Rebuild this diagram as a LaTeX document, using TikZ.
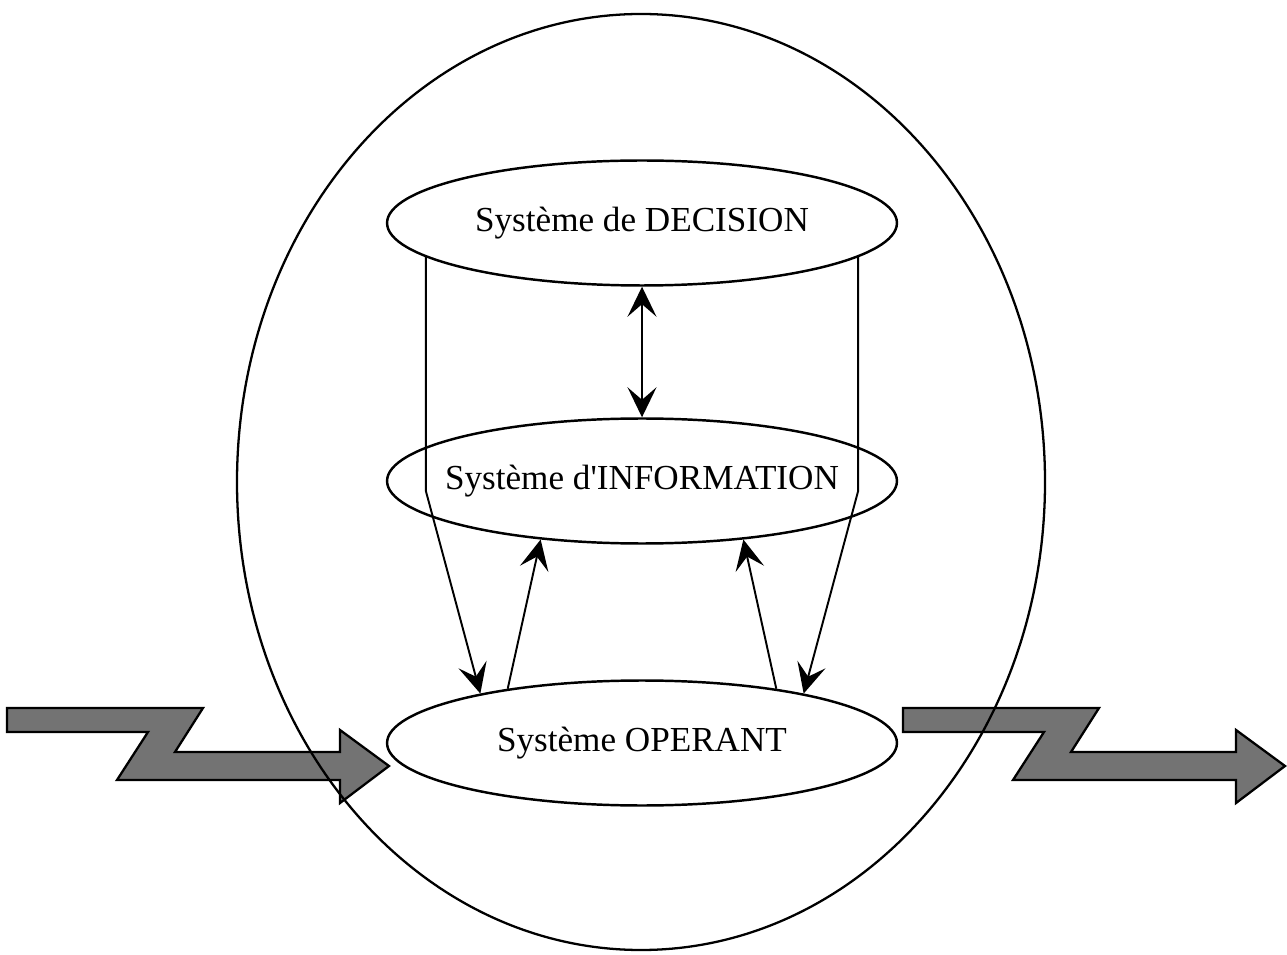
\documentclass[tikz,border=0pt]{standalone}
\usepackage{fontspec}
\setmainfont{Liberation Serif}
\usetikzlibrary{shapes.geometric,arrows.meta}

\begin{document}
\begin{tikzpicture}[x=0.02cm,y=-0.02cm,font=\fontsize{20}{24}\selectfont,
  >={Stealth[length=0.6cm,width=0.58cm,inset=0.25cm]},
  sys/.style={ellipse,draw,line width=1.4pt,minimum width=10.2cm,minimum height=2.5cm,inner sep=0pt},
  lien/.style={line width=1.1pt,->},
  flux/.style={draw,line width=1.3pt,fill=black!55,line join=miter}]
\useasboundingbox (0,0) rectangle (1287,955);
% flux entrant / sortant
\foreach \dx in {0,896}
  \draw[flux,shift={(\dx,0)}] (7,708) -- (203,708) -- (175,752) -- (340,752) -- (340,730)
    -- (389,766) -- (340,803) -- (340,780) -- (117,780) -- (148,732) -- (7,732) -- cycle;
\draw[line width=1.3pt] (641,482) ellipse [x radius=404,y radius=468];
\node[sys,label=center:{Système de DECISION}] (dec) at (642,223) {};
\node[sys,label=center:{Système d\textquotesingle INFORMATION}] (info) at (642,481) {};
\node[sys,label=center:{Système OPERANT}] (op) at (642,743) {};
\draw[lien,<->] (dec) -- (info);
\draw[lien] (dec.189) -- ++(0,234) -- (op.163);
\draw[lien] (dec.-9) -- ++(0,234) -- (op.17);
\draw[lien] (op.158) -- (info.210);
\draw[lien] (op.22) -- (info.-30);
\end{tikzpicture}
\end{document}
